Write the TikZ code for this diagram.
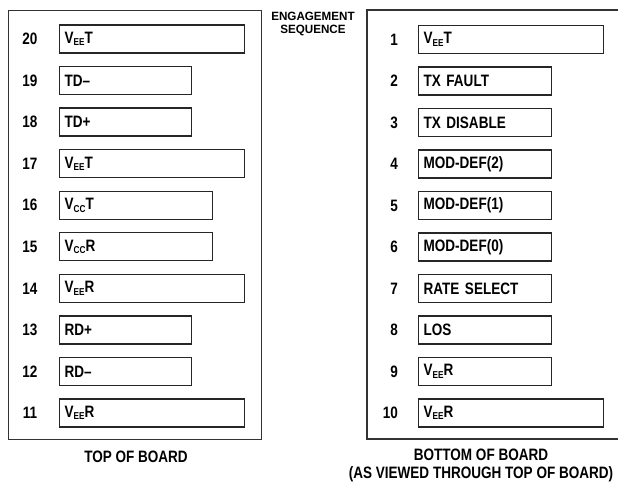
\documentclass[tikz,border=0pt]{standalone}
\usepackage{fontspec}
\setmainfont{Liberation Sans}[FakeStretch=0.82]
\newfontfamily\widefont{Liberation Sans}[FakeStretch=0.97]
\tikzset{
  pinbox/.style={draw=black!85, line width=1.3pt, rectangle, anchor=west,
    minimum height=28pt, inner xsep=5pt, inner ysep=0pt, align=left,
    font=\fontsize{16.5}{19}\selectfont\bfseries},
  longbox/.style={pinbox, text width=175pt},
  shortbox/.style={pinbox, text width=122pt},
  medbox/.style={pinbox, text width=143pt},
  rshort/.style={pinbox, text width=123pt},
  pinnum/.style={font=\fontsize{16.5}{19}\selectfont\bfseries, inner sep=0pt},
  caption/.style={font=\fontsize{16.5}{19}\selectfont\bfseries, inner sep=0pt},
  board/.style={draw=black!80, line width=1.4pt}
}
\newcommand{\sbs}[1]{\raisebox{-2.5pt}{\fontsize{10}{10}\selectfont #1}}
\begin{document}
\begin{tikzpicture}[x=1pt,y=-1pt]
\useasboundingbox (0,0) rectangle (618,483);
% boards
\node[board, rectangle, minimum width=253pt, minimum height=429pt, anchor=north west, inner sep=0pt] (topboard) at (8,10) {};
\coordinate (rtr) at (620,10);
\coordinate (rtl) at (367,10);
\coordinate (rbl) at (367,439);
\coordinate (rbr) at (620,439);
\draw[board] (rtr) -- (rtl) -- (rbl) -- (rbr);
% left pins
\foreach \n/\lab/\sty [count=\i from 0] in {
  20/{V\sbs{EE}T}/longbox, 19/{TD–}/shortbox, 18/{TD+}/shortbox,
  17/{V\sbs{EE}T}/longbox, 16/{V\sbs{CC}T}/medbox, 15/{V\sbs{CC}R}/medbox,
  14/{V\sbs{EE}R}/longbox, 13/{RD+}/shortbox, 12/{RD–}/shortbox,
  11/{V\sbs{EE}R}/longbox}{
  \node[\sty] (l\n) at (59,39+41.56*\i) {\lab};
  \node[pinnum] (nl\n) at (30,39+41.56*\i) {\n};
}
% right pins
\foreach \n/\lab/\sty [count=\i from 0] in {
  1/{V\sbs{EE}T}/longbox, 2/{TX FAULT}/rshort, 3/{TX DISABLE}/rshort,
  4/{MOD-DEF(2)}/rshort, 5/{MOD-DEF(1)}/rshort, 6/{MOD-DEF(0)}/rshort,
  7/{RATE SELECT}/rshort, 8/{LOS}/rshort, 9/{V\sbs{EE}R}/rshort,
  10/{V\sbs{EE}R}/longbox}{
  \node[\sty] (r\n) at (418,39.5+41.5*\i) {\lab};
  \node[pinnum, anchor=east] (nr\n) at (398,39.5+41.5*\i) {\n};
}
% captions
\node[font=\widefont\fontsize{12}{13}\selectfont\bfseries, align=center, inner sep=0pt] (eng) at (313,24) {ENGAGEMENT\\[0pt]SEQUENCE};
\node[caption] (topcap) at (136,457) {TOP OF BOARD};
\node[caption, align=center] (botcap) at (481,465.5) {BOTTOM OF BOARD\\[-1pt](AS VIEWED THROUGH TOP OF BOARD)};
\end{tikzpicture}
\end{document}
